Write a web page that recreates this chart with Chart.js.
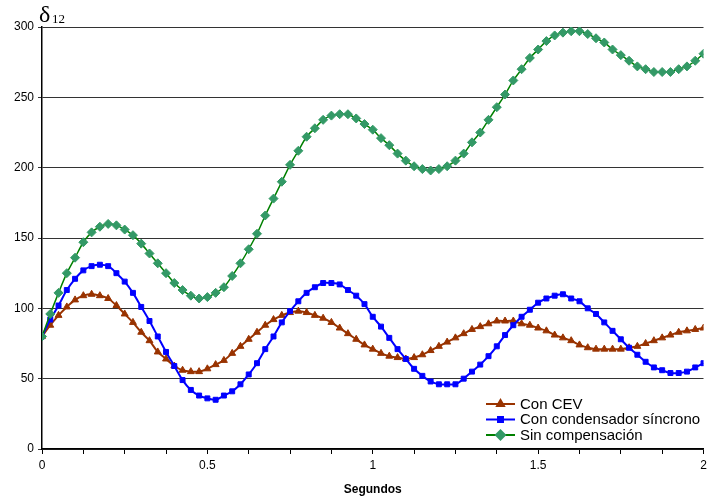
<!DOCTYPE html>
<html>
<head>
<meta charset="utf-8">
<title>δ12 - Segundos</title>
<script src="https://cdn.jsdelivr.net/npm/chart.js@4/dist/chart.umd.min.js"></script>
<style>
    html, body { margin: 0; padding: 0; background: #ffffff; }
    #wrap { width: 709px; height: 500px; position: relative; }
</style>
</head>
<body>
<div id="wrap"><canvas id="deltaChart" width="709" height="500"></canvas></div>
<script>
// ==============================
// Data
// ==============================

const times = [
    0, 0.025, 0.05, 0.075, 0.1, 0.125, 0.15, 0.175, 0.2, 0.225,
    0.25, 0.275, 0.3, 0.325, 0.35, 0.375, 0.4, 0.425, 0.45, 0.475,
    0.5, 0.525, 0.55, 0.575, 0.6, 0.625, 0.65, 0.675, 0.7, 0.725,
    0.75, 0.775, 0.8, 0.825, 0.85, 0.875, 0.9, 0.925, 0.95, 0.975,
    1, 1.025, 1.05, 1.075, 1.1, 1.125, 1.15, 1.175, 1.2, 1.225,
    1.25, 1.275, 1.3, 1.325, 1.35, 1.375, 1.4, 1.425, 1.45, 1.475,
    1.5, 1.525, 1.55, 1.575, 1.6, 1.625, 1.65, 1.675, 1.7, 1.725,
    1.75, 1.775, 1.8, 1.825, 1.85, 1.875, 1.9, 1.925, 1.95, 1.975,
    2
];

const conCEV = [
    80, 88, 95, 101, 106, 109, 110, 109, 107, 102,
    96, 90, 83, 77, 69, 64, 59, 56, 55, 55,
    57, 60, 63, 68, 73, 78, 83, 88, 92, 95,
    97, 98, 97, 95, 93, 90, 86, 82, 78, 74,
    71, 68, 66, 65, 64, 65, 67, 70, 73, 76,
    79, 82, 85, 87, 89, 91, 91, 91, 89, 88,
    86, 84, 81, 79, 77, 74, 72, 71, 71, 71,
    71, 72, 73, 75, 77, 79, 81, 83, 84, 85,
    86
];

const conCondensador = [
    80, 92, 102, 113, 121, 127, 130, 131, 130, 125,
    119, 111, 101, 91, 80, 69, 59, 49, 42, 38,
    36, 35, 38, 41, 46, 53, 61, 71, 80, 90,
    98, 105, 111, 115, 118, 118, 117, 113, 109, 103,
    94, 87, 79, 71, 64, 57, 52, 48, 46, 46,
    46, 50, 55, 60, 66, 73, 81, 88, 94, 99,
    104, 107, 109, 110, 107, 105, 100, 96, 90, 84,
    78, 72, 67, 62, 58, 56, 54, 54, 55, 58,
    61
];

const sinCompensacion = [
    80, 96, 111, 125, 136, 147, 154, 158, 160, 159,
    156, 152, 146, 139, 132, 125, 118, 113, 109, 107,
    108, 111, 115, 123, 132, 142, 153, 166, 178, 190,
    202, 212, 222, 228, 234, 237, 238, 238, 235, 231,
    227, 221, 216, 210, 205, 201, 199, 198, 199, 201,
    205, 210, 218, 225, 234, 243, 252, 262, 270, 278,
    284, 290, 294, 296, 297, 297, 295, 292, 289, 284,
    280, 276, 272, 270, 268, 268, 268, 270, 272, 276,
    281
];

const seriesNames = ["Con CEV", "Con condensador síncrono", "Sin compensación"];
const xTickLabels = [0, 0.5, 1, 1.5, 2];

// ==============================
// Helpers
// ==============================

function toPoints(values) {
    return values.map((v, i) => ({ x: times[i], y: v }));
}

// legend drawn inside the plot, bottom right
const legendPlugin = {
    id: "insideLegend",
    afterDraw(chart) {
        const ctx = chart.ctx;
        const items = chart.data.datasets
            .slice()
            .sort((a, b) => a.legendIndex - b.legendIndex);

        ctx.save();
        ctx.font = "15px 'Liberation Sans', Arial, sans-serif";
        ctx.textBaseline = "middle";

        items.forEach((ds, i) => {
            const y = 404 + i * 15.5;

            ctx.strokeStyle = ds.borderColor;
            ctx.lineWidth = 2;
            ctx.beginPath();
            ctx.moveTo(486, y);
            ctx.lineTo(515, y);
            ctx.stroke();

            ctx.fillStyle = ds.pointBackgroundColor;
            ctx.strokeStyle = ds.pointBorderColor;
            Chart.helpers.drawPoint(ctx, {
                pointStyle: ds.pointStyle,
                radius: ds.pointRadius,
                borderWidth: 1
            }, 500.5, y);
            ctx.fill();

            ctx.fillStyle = "#000000";
            ctx.fillText(seriesNames[ds.legendIndex], 520, y + 0.5);
        });

        // delta label at the top of the y axis
        ctx.textBaseline = "alphabetic";
        ctx.font = "24px 'Liberation Serif', 'Times New Roman', serif";
        ctx.fillText("δ", 39, 22);
        ctx.font = "13px 'Liberation Serif', 'Times New Roman', serif";
        ctx.fillText("12", 52, 23);

        ctx.restore();
    }
};

// ==============================
// Chart
// ==============================

new Chart(document.getElementById("deltaChart"), {
    type: "line",
    data: {
        datasets: [
            {
                label: seriesNames[2],
                legendIndex: 2,
                data: toPoints(sinCompensacion),
                borderColor: "#008000",
                borderWidth: 1.5,
                pointStyle: "rectRot",
                pointRadius: 4.5,
                pointBackgroundColor: "#339966",
                pointBorderColor: "#339966",
                pointBorderWidth: 1,
                order: 0
            },
            {
                label: seriesNames[1],
                legendIndex: 1,
                data: toPoints(conCondensador),
                borderColor: "#0000FF",
                borderWidth: 2,
                pointStyle: "rect",
                pointRadius: 3.5,
                pointBackgroundColor: "#0000FF",
                pointBorderColor: "#0000FF",
                pointBorderWidth: 1,
                order: 1
            },
            {
                label: seriesNames[0],
                legendIndex: 0,
                data: toPoints(conCEV),
                borderColor: "#993300",
                borderWidth: 2,
                pointStyle: "triangle",
                pointRadius: 4,
                pointBackgroundColor: "#993300",
                pointBorderColor: "#993300",
                pointBorderWidth: 1,
                order: 2
            }
        ]
    },
    options: {
        responsive: false,
        animation: false,
        layout: {
            padding: { top: 27, right: 0, left: 0, bottom: 0 }
        },
        plugins: {
            legend: { display: false },
            tooltip: { enabled: false }
        },
        elements: {
            line: { tension: 0.3 }
        },
        scales: {
            x: {
                type: "linear",
                min: 0,
                max: 2,
                afterFit(scale) {
                    scale.height = 51;
                    scale.paddingRight = 4;
                },
                afterBuildTicks(scale) {
                    scale.ticks = [];
                    for (let i = 0; i <= 16; i++) {
                        scale.ticks.push({ value: i * 0.125 });
                    }
                },
                ticks: {
                    autoSkip: false,
                    maxRotation: 0,
                    padding: 4,
                    color: "#000000",
                    font: { family: "'Liberation Sans', Arial, sans-serif", size: 12 },
                    callback: (value) => xTickLabels.includes(value) ? String(value) : ""
                },
                grid: {
                    drawOnChartArea: false,
                    drawTicks: true,
                    tickLength: 5,
                    color: "#000000"
                },
                border: { color: "#000000", width: 1.5 },
                title: {
                    display: true,
                    text: "Segundos",
                    color: "#000000",
                    font: { family: "'Liberation Sans', Arial, sans-serif", size: 12, weight: "bold" },
                    padding: { top: 4, bottom: 3 }
                }
            },
            y: {
                min: 0,
                max: 300,
                afterFit(scale) { scale.width = 42; },
                ticks: {
                    stepSize: 50,
                    padding: 4,
                    color: "#000000",
                    font: { family: "'Liberation Sans', Arial, sans-serif", size: 12 }
                },
                grid: {
                    color: "#333333",
                    lineWidth: 1,
                    drawTicks: true,
                    tickLength: 4
                },
                border: { color: "#000000", width: 1.5 }
            }
        }
    },
    plugins: [legendPlugin]
});
</script>
</body>
</html>
